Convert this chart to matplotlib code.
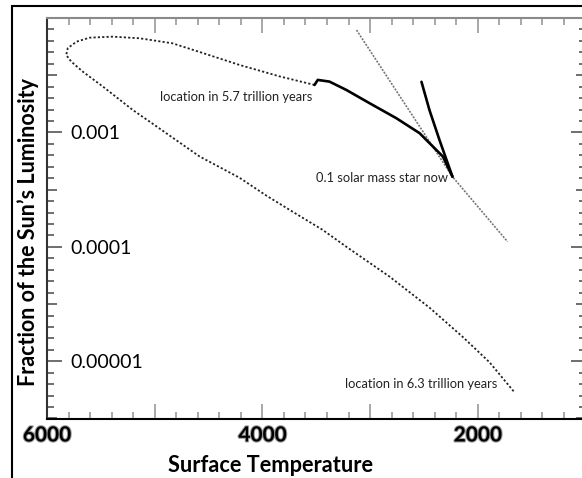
import math
import matplotlib
matplotlib.use('Agg')
import matplotlib.pyplot as plt
import matplotlib.ticker as ticker
import matplotlib.patheffects as pe
from matplotlib.patches import Rectangle

# pre main sequence descent (thick)
temp_pre = [2523, 2449, 2356, 2235]
lum_pre = [2.77e-3, 1.57e-3, 8.6e-4, 4.1e-4]

# from now to 5.7 trillion years (thick)
temp_ms = [2235, 2325, 2541, 2758, 3006, 3222, 3377, 3486, 3516]
lum_ms = [4.1e-4, 6.17e-4, 9.86e-4, 1.334e-3, 1.803e-3, 2.355e-3, 2.78e-3, 2.877e-3, 2.6e-3]

# from 5.7 to 6.3 trillion years (dotted)
temp_late = [3516, 3841, 4213, 4612, 4835, 5141, 5392, 5605, 5726, 5807, 5822, 5775,
             5668, 5482, 5203, 5048, 4584, 4213, 3962, 3720, 3442, 3219, 2820, 2448,
             2142, 1891, 1659]
lum_late = [2.6e-3, 3.09e-3, 3.89e-3, 5.15e-3, 6.01e-3, 6.65e-3, 6.87e-3, 6.73e-3, 6.21e-3,
            5.45e-3, 4.75e-3, 4.16e-3, 3.4e-3, 2.52e-3, 1.57e-3, 1.245e-3, 6.17e-4, 4.02e-4,
            2.8e-4, 2.03e-4, 1.41e-4, 1.0e-4, 5.5e-5, 2.94e-5, 1.64e-5, 9.8e-6, 5.35e-6]

# gray reference line
temp_ref = [3126, 2235, 1724]
lum_ref = [7.85e-3, 4.1e-4, 1.11e-4]

x_labels = {6000: '6000', 4000: '4000', 2000: '2000'}
y_labels = {1e-3: '0.001', 1e-4: '0.0001', 1e-5: '0.00001'}

plt.rcParams['font.family'] = ['Lato', 'DejaVu Sans']

fig = plt.figure(figsize=(5.82, 4.78), dpi=100)
fig.patch.set_facecolor('white')
ax = fig.add_axes([47 / 582, 59.5 / 478, 538.5 / 582, 400.5 / 478])

# curves
ax.plot(temp_ref, lum_ref, color='#777777', lw=1.2, linestyle=(0, (1.2, 0.8)))
ax.plot(temp_late, lum_late, color='#222222', lw=1.3, linestyle=(0, (1.2, 1.2)))
ax.plot(temp_ms, lum_ms, color='black', lw=1.9, solid_capstyle='round', solid_joinstyle='round')
ax.plot(temp_pre, lum_pre, color='black', lw=1.9, solid_capstyle='round', solid_joinstyle='round')

ax.set_yscale('log')
ax.set_xlim(6000, 1000)
ax.set_ylim(10 ** -5.5, 1e-2)

# ticks
ax.xaxis.set_major_locator(ticker.FixedLocator(range(1000, 6001, 1000)))
ax.xaxis.set_minor_locator(ticker.FixedLocator(range(1000, 6001, 200)))
ax.xaxis.set_major_formatter(ticker.FuncFormatter(lambda v, p: x_labels.get(int(round(v)), '')))
ax.xaxis.set_minor_formatter(ticker.NullFormatter())

y_major = [10 ** (k / 2) for k in range(-11, -3)]
y_minor = [10 ** (k / 10) for k in range(-55, -19)]
ax.yaxis.set_major_locator(ticker.FixedLocator(y_major))
ax.yaxis.set_minor_locator(ticker.FixedLocator(y_minor))
ax.yaxis.set_major_formatter(ticker.FuncFormatter(
    lambda v, p: next((t for k, t in y_labels.items() if abs(v / k - 1) < 1e-6), '')))
ax.yaxis.set_minor_formatter(ticker.NullFormatter())

ax.tick_params(which='both', direction='in', top=True, right=True)
ax.tick_params(axis='x', which='major', length=10.5, width=1.2, color='#999999',
               labelsize=15, pad=5)
ax.tick_params(axis='x', which='minor', length=5, width=1.2, color='#999999')
ax.tick_params(axis='y', which='major', length=10.5, width=1.2, color='#555555',
               labelsize=14, pad=-16.5)
ax.tick_params(axis='y', which='minor', length=5, width=1.2, color='#555555')
for lbl in ax.get_xticklabels():
    lbl.set_fontweight('bold')
    lbl.set_path_effects([pe.withStroke(linewidth=1.5, foreground='#9a9a9a')])
for lbl in ax.get_yticklabels():
    lbl.set_horizontalalignment('left')

# half decades a bit shorter
for tk in ax.yaxis.get_major_ticks():
    v = tk.get_loc()
    if v is not None and abs(round(math.log10(v)) - math.log10(v)) > 0.1:
        tk.tick1line.set_markersize(7.5)
        tk.tick2line.set_markersize(7.5)

for side in ['left', 'bottom', 'top', 'right']:
    ax.spines[side].set_linewidth(1.5)
ax.spines['left'].set_color('#333333')
ax.spines['bottom'].set_color('black')
ax.spines['top'].set_color('#8a8a8a')

# annotations
ax.text(4955, 2.05e-3, 'location in 5.7 trillion years', fontsize=9.3, color='#222222',
        ha='left', va='center')
ax.text(2281, 4.02e-4, '0.1 solar mass star now', fontsize=9.3, color='#222222',
        ha='right', va='center')
ax.text(1817, 6.28e-6, 'location in 6.3 trillion years', fontsize=9.3, color='#222222',
        ha='right', va='center')

# axis titles
fig.text(28 / 582, 1 - 232 / 478, 'Fraction of the Sun\u2019s Luminosity', rotation=90,
         ha='center', va='center', fontsize=15.5, fontweight='bold')
fig.text(270 / 582, 1 - 465 / 478, 'Surface Temperature', ha='center', va='center',
         fontsize=15.7, fontweight='bold')

# outer frame
fig.add_artist(Rectangle((12 / 582, -0.1), 1.1, 0.1 + 472 / 478, transform=fig.transFigure,
                         fill=False, lw=1.5, ec='black'))

fig.savefig('out.png', dpi=100)
